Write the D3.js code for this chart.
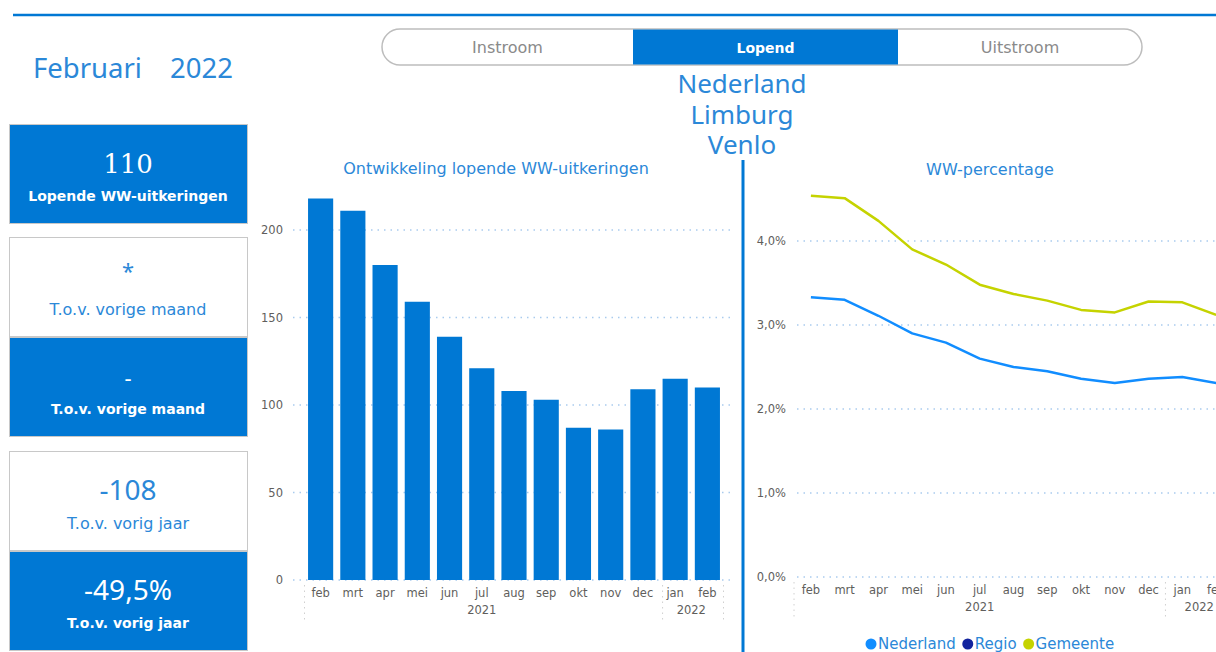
<!DOCTYPE html>
<html>
<head>
<meta charset="utf-8">
<script src="https://cdn.jsdelivr.net/npm/d3@7"></script>
<style>
  body { margin: 0; background: #fff; overflow: hidden; }
  svg { display: block; font-family: "DejaVu Sans", Verdana, sans-serif; }
  .axis-label { fill: #605E5C; font-size: 11.5px; }
  .grid line { stroke: #A9CBEE; stroke-dasharray: 1.5 5; stroke-width: 1.6; }
  .sep { stroke: #D0D0D0; stroke-dasharray: 1.5 4; }
</style>
</head>
<body>
<svg id="chart"></svg>
<script>
// ---- data ----
const months = ['feb', 'mrt', 'apr', 'mei', 'jun', 'jul', 'aug', 'sep', 'okt', 'nov', 'dec', 'jan', 'feb'];
const monthYears = [2021, 2021, 2021, 2021, 2021, 2021, 2021, 2021, 2021, 2021, 2021, 2022, 2022];
const lopend = [218, 211, 180, 159, 139, 121, 108, 103, 87, 86, 109, 115, 110];
const barTicks = [0, 50, 100, 150, 200];

const nederlandPct = [3.33, 3.30, 3.11, 2.90, 2.79, 2.60, 2.50, 2.45, 2.36, 2.31, 2.36, 2.38, 2.31];
const gemeentePct = [4.54, 4.51, 4.24, 3.90, 3.72, 3.48, 3.37, 3.29, 3.18, 3.15, 3.28, 3.27, 3.12];
const pctTicks = [0, 1, 2, 3, 4];

const tabs = ['Instroom', 'Lopend', 'Uitstroom'];
const activeTab = 'Lopend';
const regions = ['Nederland', 'Limburg', 'Venlo'];

const kpis = [
  {value: '110', label: 'Lopende WW-uitkeringen', dark: true, serif: true},
  {value: '*', label: 'T.o.v. vorige maand', dark: false},
  {value: '-', label: 'T.o.v. vorige maand', dark: true},
  {value: '-108', label: 'T.o.v. vorig jaar', dark: false},
  {value: '-49,5%', label: 'T.o.v. vorig jaar', dark: true}
];

const legendItems = [
  {name: 'Nederland', color: '#118DFF'},
  {name: 'Regio', color: '#12239E'},
  {name: 'Gemeente', color: '#C5D300'}
];

const BLUE = '#0078D4';
const TEXT_BLUE = '#2B88D8';

const svg = d3.select('#chart').attr('width', 1216).attr('height', 652);

// top rule
svg.append('line').attr('x1', 13).attr('x2', 1216).attr('y1', 15).attr('y2', 15)
  .attr('stroke', BLUE).attr('stroke-width', 2.5);

// period title
svg.append('text').attr('x', 33).attr('y', 78)
  .attr('fill', TEXT_BLUE).style('font-family', '"Noto Sans", sans-serif').style('font-size', '27.5px')
  .text('Februari');
svg.append('text').attr('x', 170).attr('y', 78)
  .attr('fill', TEXT_BLUE).style('font-family', '"Noto Sans", sans-serif').style('font-size', '27.5px')
  .text('2022');

// tab switch
const tabScale = d3.scaleOrdinal().domain(tabs).range([[382, 633], [633, 898], [898, 1142]]);
svg.append('rect').attr('x', 382).attr('y', 29).attr('width', 760).attr('height', 36)
  .attr('rx', 18).attr('fill', '#fff').attr('stroke', '#BDBDBD').attr('stroke-width', 1.5);
tabs.forEach(t => {
  const [a, b] = tabScale(t);
  if (t === activeTab) {
    svg.append('rect').attr('x', a).attr('y', 29.5).attr('width', b - a).attr('height', 35).attr('fill', BLUE);
  }
  svg.append('text').attr('x', (a + b) / 2).attr('y', 53).attr('text-anchor', 'middle')
    .style('font-size', t === activeTab ? '14px' : '16px').style('font-weight', t === activeTab ? 'bold' : 'normal')
    .attr('fill', t === activeTab ? '#fff' : '#8A8A8A').text(t);
});

// region names
regions.forEach((r, i) => {
  svg.append('text').attr('x', 742).attr('y', 93 + i * 30.5).attr('text-anchor', 'middle')
    .attr('fill', TEXT_BLUE).style('font-family', '"Noto Sans", sans-serif')
    .style('font-size', '26px').text(r);
});

// KPI cards
const kpiY = [124, 237, 337, 451, 551];
kpis.forEach((k, i) => {
  const y = kpiY[i];
  const g = svg.append('g').attr('transform', `translate(9,${y})`);
  g.append('rect').attr('x', 0.5).attr('y', 0.5).attr('width', 238).attr('height', 99)
    .attr('fill', k.dark ? BLUE : '#fff').attr('stroke', '#C8C8C8').attr('stroke-width', 1);
  const col = k.dark ? '#fff' : TEXT_BLUE;
  g.append('text').attr('x', 119).attr('y', k.value === '*' ? 42 : 49).attr('text-anchor', 'middle')
    .attr('fill', col)
    .style('font-family', k.serif ? '"DejaVu Serif", serif' : '"Noto Sans", sans-serif')
    .style('font-size', k.value === '*' || k.value === '-' ? '22px' : (k.serif ? '26px' : '28px'))
    .text(k.value);
  g.append('text').attr('x', 119).attr('y', k.dark ? 77 : 78).attr('text-anchor', 'middle')
    .attr('fill', col).style('font-size', k.dark ? '14px' : '16px').style('font-weight', k.dark ? 'bold' : 'normal')
    .text(k.label);
});

// divider between charts
svg.append('line').attr('x1', 743).attr('x2', 743).attr('y1', 160).attr('y2', 652)
  .attr('stroke', BLUE).attr('stroke-width', 3);

// helper for month/year axis
function monthAxis(g, x, y0, xLeft, xRight) {
  g.selectAll('.m').data(months).join('text')
    .attr('class', 'axis-label')
    .attr('x', (d, i) => x(i) + x.bandwidth() / 2).attr('y', y0 + 17)
    .attr('text-anchor', 'middle').text(d => d);
  const years = Array.from(new Set(monthYears));
  years.forEach(yr => {
    const idx = monthYears.map((v, i) => v === yr ? i : -1).filter(i => i >= 0);
    const a = x(idx[0]), b = x(idx[idx.length - 1]) + x.bandwidth();
    g.append('text').attr('class', 'axis-label').attr('x', (a + b) / 2).attr('y', y0 + 34)
      .attr('text-anchor', 'middle').text(yr);
  });
  const bounds = [xLeft];
  years.slice(1).forEach(yr => bounds.push(x(monthYears.indexOf(yr))));
  bounds.push(xRight);
  bounds.forEach(bx => g.append('line').attr('class', 'sep')
    .attr('x1', bx).attr('x2', bx).attr('y1', y0 + 5).attr('y2', y0 + 42));
}

// ---- bar chart ----
const bar = {left: 293, right: 730, bottom: 580};
const bx = d3.scaleBand().domain(d3.range(months.length)).range([304.5, 723.5]).paddingInner(0.22).paddingOuter(0.11);
const by = d3.scaleLinear().domain([0, 200]).range([bar.bottom, 230]);

svg.append('text').attr('x', 496).attr('y', 174).attr('text-anchor', 'middle')
  .attr('fill', TEXT_BLUE).style('font-size', '16px').text('Ontwikkeling lopende WW-uitkeringen');

const barGrid = svg.append('g').attr('class', 'grid');
barGrid.selectAll('line').data(barTicks).join('line')
  .attr('x1', bar.left).attr('x2', bar.right).attr('y1', d => by(d)).attr('y2', d => by(d));
svg.append('g').selectAll('text').data(barTicks).join('text')
  .attr('class', 'axis-label').attr('x', 283).attr('y', d => by(d) + 4)
  .attr('text-anchor', 'end').text(d => d);

svg.append('g').selectAll('rect').data(lopend).join('rect')
  .attr('x', (d, i) => bx(i)).attr('width', bx.bandwidth())
  .attr('y', d => by(d)).attr('height', d => by(0) - by(d))
  .attr('fill', BLUE);

monthAxis(svg.append('g'), bx, bar.bottom, 304.5, 723.5);

// ---- line chart ----
const ln = {left: 797, right: 1240};
const lx = d3.scaleBand().domain(d3.range(months.length)).range([794, 1233]);
const ly = d3.scaleLinear().domain([0, 4]).range([577, 241]);

svg.append('text').attr('x', 990).attr('y', 175).attr('text-anchor', 'middle')
  .attr('fill', TEXT_BLUE).style('font-size', '16px').text('WW-percentage');

const lineGrid = svg.append('g').attr('class', 'grid');
lineGrid.selectAll('line').data(pctTicks).join('line')
  .attr('x1', ln.left).attr('x2', ln.right).attr('y1', d => ly(d)).attr('y2', d => ly(d));
const fmt = d => d3.format('.1f')(d).replace('.', ',') + '%';
svg.append('g').selectAll('text').data(pctTicks).join('text')
  .attr('class', 'axis-label').attr('x', 786).attr('y', d => ly(d) + 4)
  .attr('text-anchor', 'end').text(fmt);

const line = d3.line().x((d, i) => lx(i) + lx.bandwidth() / 2).y(d => ly(d));
[[gemeentePct, '#C5D300'], [nederlandPct, '#118DFF']].forEach(([vals, c]) => {
  svg.append('path').datum(vals).attr('d', line)
    .attr('fill', 'none').attr('stroke', c).attr('stroke-width', 2.5).attr('stroke-linejoin', 'round');
});

monthAxis(svg.append('g'), lx, 577, 794, 1233);

// legend
const lg = svg.append('g').attr('transform', 'translate(865,644)');
let lxPos = 0;
legendItems.forEach(it => {
  lg.append('circle').attr('cx', lxPos + 6).attr('cy', 0).attr('r', 5.5).attr('fill', it.color);
  const t = lg.append('text').attr('x', lxPos + 13).attr('y', 5).attr('fill', TEXT_BLUE)
    .style('font-size', '15px').text(it.name);
  lxPos += 13 + t.node().getComputedTextLength() + 6;
});
</script>
</body>
</html>
